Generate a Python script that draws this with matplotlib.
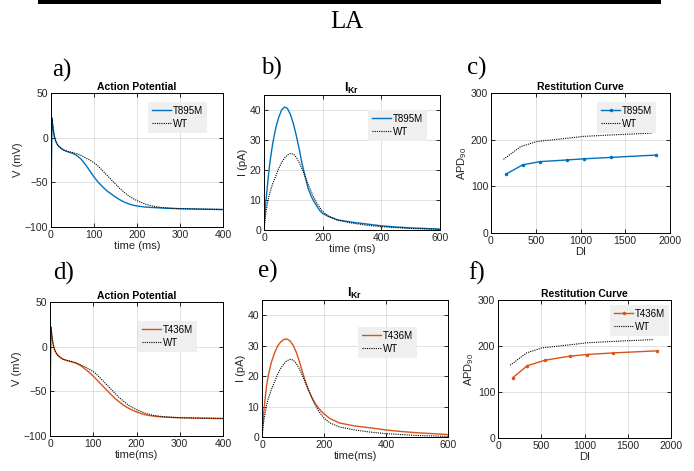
import matplotlib
matplotlib.use("Agg")
import matplotlib.pyplot as plt
from matplotlib.patches import Rectangle

# action potential traces (ms, mV)
t_ap = [0, 2, 4, 6, 8, 10, 13, 16, 20, 25, 30, 40, 50, 60, 70, 80, 90, 100, 110, 120,
        130, 140, 150, 160, 170, 180, 190, 200, 220, 240, 260, 280, 300, 350, 400]
v_wt = [-80, 22, 14, 6, 1, -2.5, -6, -8.5, -10.5, -12.5, -14, -15.5, -16.5, -18, -20, -22.5,
        -25, -28, -32, -37, -42, -47, -52, -57, -61, -65, -68, -70.5, -74.5, -77, -78.3,
        -79, -79.5, -80, -80.3]
v_t895m = [-80, 22, 14, 6, 1, -2.5, -6, -8.5, -10.5, -12.5, -14, -16, -17.5, -20, -24, -30,
           -37, -44, -50, -55, -59.5, -63, -66.5, -69.5, -72, -74, -75.5, -76.5, -77.7, -78.3,
           -78.8, -79.2, -79.5, -80, -80.5]
v_t436m = [-80, 22, 14, 6, 1, -2.5, -6, -8.5, -10.5, -12.5, -14, -15.7, -17, -18.5, -21, -24.5,
           -28.5, -33, -38, -43, -48, -53, -57.8, -61.8, -65.6, -68.5, -71, -73, -76.3, -77.8,
           -78.7, -79.2, -79.6, -80.1, -80.5]

# IKr currents (ms, pA)
t_ikr = [0, 3, 6, 10, 15, 20, 30, 40, 50, 60, 70, 80, 90, 100, 110, 120, 130, 140, 150, 160,
         170, 180, 190, 200, 220, 250, 300, 350, 400, 450, 500, 550, 600]
i_wt = [0, 3, 5.5, 8, 10.5, 12.5, 15.5, 18, 20.5, 22.5, 24, 25, 25.5, 25.3, 24.3, 22.5, 20.3,
        17.8, 15.3, 13, 10.8, 9, 7.5, 6.2, 4.6, 3.3, 2.3, 1.6, 1.1, 0.8, 0.5, 0.35, 0.2]
i_t895m = [0, 5, 9, 13, 18, 22.5, 29, 34, 37.5, 40, 41, 40.5, 38.5, 35.5, 31.5, 27, 22, 18,
           14, 11.5, 9.5, 8, 6.5, 5.5, 4.5, 3.4, 2.6, 2, 1.4, 1.0, 0.7, 0.5, 0.3]
i_t436m = [0, 5, 8.5, 12.5, 17, 20, 24.5, 27.5, 29.8, 31.2, 32, 32.2, 31.6, 30.2, 28, 25, 21.5,
           18.3, 15.5, 13.2, 11.3, 9.8, 8.6, 7.6, 6, 4.6, 3.6, 3, 2.3, 1.8, 1.4, 1.1, 0.8]

# restitution (DI vs APD90)
di_wt = [140, 330, 510, 850, 1030, 1330, 1800]
apd_wt = [158, 185, 196, 203, 207, 210, 214]
di_t895m = [167, 353, 550, 847, 1041, 1338, 1840]
apd_t895m = [126, 146, 153, 156.5, 159, 162, 167]
di_t436m = [170, 337, 542, 832, 1025, 1335, 1838]
apd_t436m = [131, 157, 169, 178, 181.5, 185, 189.5]

BLUE = "#0072BD"
ORANGE = "#D95319"
W, H = 694, 471

plt.rcParams["font.family"] = ["Liberation Sans", "DejaVu Sans"]
plt.rcParams["mathtext.fontset"] = "custom"
plt.rcParams["mathtext.rm"] = "Liberation Sans"
plt.rcParams["mathtext.bf"] = "Liberation Sans:bold"
plt.rcParams["mathtext.it"] = "Liberation Sans:italic"

fig = plt.figure(figsize=(W / 100, H / 100), dpi=100)


def px_axes(x0, y0, x1, y1):
    return fig.add_axes([x0 / W, 1 - y1 / H, (x1 - x0) / W, (y1 - y0) / H])


def style(ax, xlim, ylim, xticks, yticks, xlabel, ylabel, title, title_size=7.5):
    ax.set_xlim(xlim)
    ax.set_ylim(ylim)
    ax.set_xticks(xticks)
    ax.set_yticks(yticks)
    ax.grid(True, color="#dcdcdc", lw=0.6)
    ax.set_axisbelow(True)
    ax.tick_params(direction="in", length=3, width=0.6, top=True, right=True,
                   labelsize=7.5, labelcolor="#262626", pad=2)
    for s in ax.spines.values():
        s.set_linewidth(0.7)
    ax.set_xlabel(xlabel, fontsize=8, color="#262626", labelpad=1)
    ax.set_ylabel(ylabel, fontsize=8, color="#262626", labelpad=1)
    ax.set_title(title, fontsize=title_size, fontweight="bold", pad=2)


def legend(ax, x, y):
    leg = ax.legend(loc="upper left", bbox_to_anchor=(x / W, 1 - y / H),
                    bbox_transform=fig.transFigure, fontsize=7, frameon=True,
                    fancybox=False, facecolor="#efefef", edgecolor="none", framealpha=1,
                    handlelength=2.0, handletextpad=0.15, borderpad=0.4, labelspacing=0.3,
                    borderaxespad=0)
    return leg


dotted = dict(color="black", lw=0.8, ls=(0, (1, 1)))
ikr_title = r"$\mathbf{I_{Kr}}$"

# a) action potential, T895M
ax = px_axes(51, 93, 223, 227)
ax.plot(t_ap, v_t895m, color=BLUE, lw=1.0, label="T895M")
ax.plot(t_ap, v_wt, label="WT", **dotted)
style(ax, (0, 400), (-100, 50), [0, 100, 200, 300, 400], [-100, -50, 0, 50],
      "time (ms)", "V (mV)", "Action Potential")
legend(ax, 148, 102)

# b) IKr, T895M
ax = px_axes(264, 95, 440, 230)
ax.plot(t_ikr, i_t895m, color=BLUE, lw=1.0, label="T895M")
ax.plot(t_ikr, i_wt, label="WT", **dotted)
style(ax, (0, 600), (0, 45), [0, 200, 400, 600], [0, 10, 20, 30, 40],
      "time (ms)", "I (pA)", ikr_title, title_size=9)
legend(ax, 368, 110)

# c) restitution, T895M
ax = px_axes(491, 93, 670, 233)
ax.plot(di_t895m, apd_t895m, color=BLUE, lw=1.0, marker=".", ms=3, label="T895M")
ax.plot(di_wt, apd_wt, label="WT", **dotted)
style(ax, (0, 2000), (0, 300), [0, 500, 1000, 1500, 2000], [0, 100, 200, 300],
      "DI", r"APD$_{90}$", "Restitution Curve")
legend(ax, 597, 102)

# d) action potential, T436M
ax = px_axes(50, 302, 223, 436)
ax.plot(t_ap, v_t436m, color=ORANGE, lw=1.0, label="T436M")
ax.plot(t_ap, v_wt, label="WT", **dotted)
style(ax, (0, 400), (-100, 50), [0, 100, 200, 300, 400], [-100, -50, 0, 50],
      "time(ms)", "V (mV)", "Action Potential")
legend(ax, 138, 321)

# e) IKr, T436M
ax = px_axes(262, 300, 448, 437)
ax.plot(t_ikr, i_t436m, color=ORANGE, lw=1.0, label="T436M")
ax.plot(t_ikr, i_wt, label="WT", **dotted)
style(ax, (0, 600), (0, 45), [0, 200, 400, 600], [0, 10, 20, 30, 40],
      "time(ms)", "I (pA)", ikr_title, title_size=9)
legend(ax, 358, 327)

# f) restitution, T436M
ax = px_axes(498, 300, 671, 438)
ax.plot(di_t436m, apd_t436m, color=ORANGE, lw=1.0, marker=".", ms=3, label="T436M")
ax.plot(di_wt, apd_wt, label="WT", **dotted)
style(ax, (0, 2000), (0, 300), [0, 500, 1000, 1500, 2000], [0, 100, 200, 300],
      "DI", r"APD$_{90}$", "Restitution Curve")
legend(ax, 610, 305)

# header bar and section title
fig.add_artist(Rectangle((38 / W, 1 - 3.5 / H), (661 - 38) / W, 3.5 / H,
                         transform=fig.transFigure, color="black", lw=0))
serif = ["Liberation Serif", "DejaVu Serif"]
fig.text(347 / W, 1 - 28 / H, "LA", family=serif, fontsize=18, ha="center", va="baseline")

panel_labels = [("a)", 52, 77), ("b)", 261, 75), ("c)", 467, 75),
                ("d)", 53, 280), ("e)", 258, 278), ("f)", 468, 280)]
for text, x, y in panel_labels:
    fig.text(x / W, 1 - y / H, text, family=serif, fontsize=18, ha="left", va="baseline")

fig.savefig("out.png", dpi=100)
